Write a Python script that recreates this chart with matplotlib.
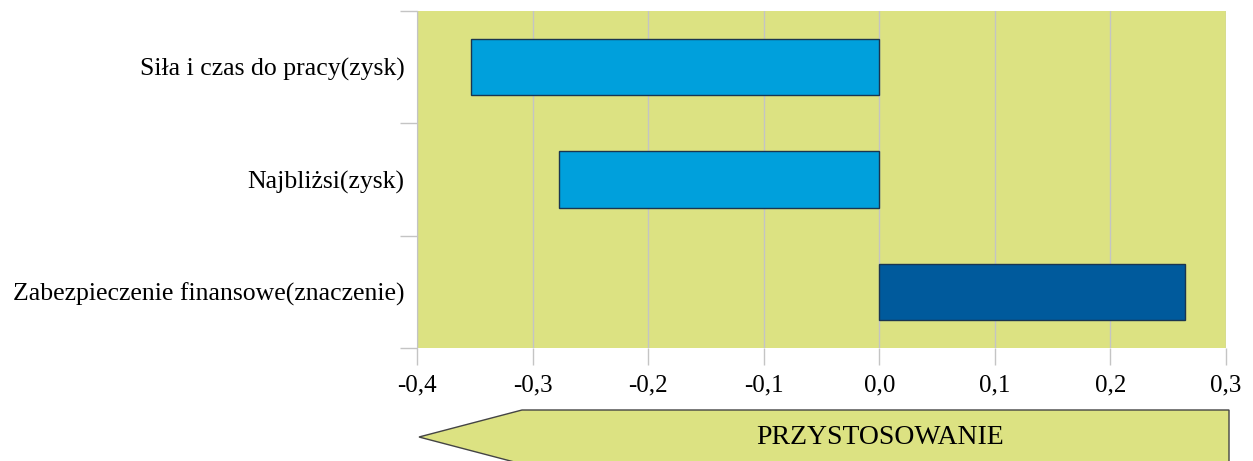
import matplotlib
matplotlib.use('Agg')
import matplotlib.pyplot as plt
from matplotlib.patches import Polygon
from matplotlib.ticker import FuncFormatter, FixedLocator

# data
categories = ['Zabezpieczenie finansowe(znaczenie)', 'Najbliżsi(zysk)', 'Siła i czas do pracy(zysk)']
values = [0.2645, -0.2772, -0.3533]
colors = ['#005a9c', '#00a0dc', '#00a0dc']
xticks = [-0.4, -0.3, -0.2, -0.1, 0.0, 0.1, 0.2, 0.3]
arrow_label = 'PRZYSTOSOWANIE'

plt.rcParams['font.family'] = ['Liberation Serif', 'DejaVu Serif']

W, H = 1253, 461
fig = plt.figure(figsize=(W / 100, H / 100), dpi=100)
ax = fig.add_axes([417 / W, 1 - 348 / H, (1226 - 417) / W, (348 - 11) / H])
ax.set_facecolor('#dce282')

ypos = list(range(len(categories)))
ax.barh(ypos, values, height=0.5, color=colors, edgecolor='#1a3550', linewidth=1.0, zorder=3)

ax.set_xlim(-0.4, 0.3)
ax.set_ylim(-0.5, len(categories) - 0.5)
ax.set_xticks(xticks)
ax.xaxis.set_major_formatter(FuncFormatter(lambda v, p: ('%.1f' % v).replace('-0.0', '0.0').replace('.', ',')))
ax.grid(axis='x', color='#c4c4c4', linewidth=1.0, zorder=0)

# category labels at centres, ticks at boundaries
ax.yaxis.set_major_locator(FixedLocator([-0.5, 0.5, 1.5, 2.5]))
ax.yaxis.set_major_formatter(FuncFormatter(lambda v, p: ''))
ax.yaxis.set_minor_locator(FixedLocator(ypos))
ax.set_yticklabels(categories, minor=True)
ax.tick_params(axis='y', which='minor', length=0, labelsize=18.5, pad=9)
ax.tick_params(axis='y', which='major', length=12, color='#c4c4c4', width=1)
ax.tick_params(axis='x', length=12, color='#c4c4c4', width=1, labelsize=18, pad=7)

for s in ['top', 'right', 'bottom']:
    ax.spines[s].set_visible(False)
ax.spines['left'].set_color('#c4c4c4')

# arrow shape under the axis
pts = [(419, 437), (522, 410), (1229, 410), (1229, 464), (522, 464)]
poly = Polygon([(x / W, 1 - y / H) for x, y in pts], closed=True, transform=fig.transFigure,
               facecolor='#dce282', edgecolor='#444444', linewidth=1.0, clip_on=False)
fig.patches.append(poly)
fig.text(880 / W, 1 - 437 / H, arrow_label, ha='center', va='center', fontsize=20)

fig.savefig('out.png', dpi=100)
